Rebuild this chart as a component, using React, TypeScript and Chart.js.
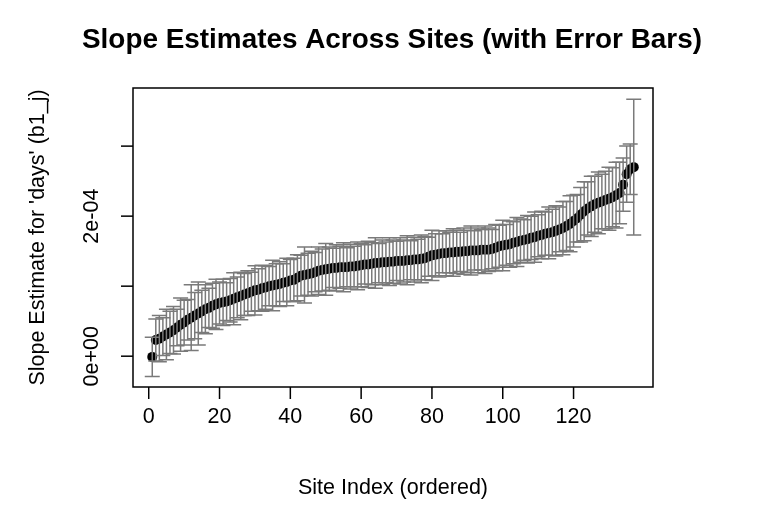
import React, { useEffect, useRef } from "react";
import { Chart, registerables } from "chart.js";

Chart.register(...registerables);

// Slope estimates (units of 1e-4), ordered ascending, site index 1..137
const slopeE4 = [
  -0.01, 0.23, 0.25, 0.28, 0.31, 0.34, 0.37, 0.41, 0.45, 0.48,
  0.52, 0.55, 0.58, 0.61, 0.64, 0.67, 0.69, 0.72, 0.74, 0.76,
  0.77, 0.78, 0.80, 0.82, 0.84, 0.86, 0.88, 0.90, 0.92, 0.94,
  0.95, 0.97, 0.98, 1.00, 1.01, 1.02, 1.03, 1.05, 1.06, 1.08,
  1.09, 1.12, 1.15, 1.16, 1.17, 1.18, 1.20, 1.22, 1.23, 1.24,
  1.25, 1.26, 1.26, 1.27, 1.27, 1.27, 1.28, 1.28, 1.29, 1.30,
  1.31, 1.31, 1.32, 1.33, 1.33, 1.34, 1.34, 1.35, 1.35, 1.36,
  1.36, 1.36, 1.37, 1.37, 1.38, 1.38, 1.39, 1.40, 1.42, 1.44,
  1.45, 1.46, 1.47, 1.47, 1.48, 1.48, 1.49, 1.49, 1.50, 1.50,
  1.51, 1.51, 1.51, 1.52, 1.52, 1.52, 1.53, 1.55, 1.57, 1.58,
  1.59, 1.60, 1.62, 1.63, 1.65, 1.66, 1.67, 1.69, 1.70, 1.72,
  1.73, 1.75, 1.76, 1.77, 1.79, 1.81, 1.83, 1.86, 1.89, 1.93,
  1.97, 2.02, 2.07, 2.11, 2.14, 2.17, 2.19, 2.21, 2.23, 2.25,
  2.27, 2.30, 2.33, 2.45, 2.60, 2.67, 2.70,
];

// Half-width of the error bars (units of 1e-4)
const errE4 = [
  0.28, 0.30, 0.33, 0.27, 0.36, 0.30, 0.34, 0.26, 0.38, 0.32,
  0.29, 0.47, 0.33, 0.45, 0.30, 0.35, 0.28, 0.32, 0.36, 0.30,
  0.33, 0.27, 0.31, 0.37, 0.29, 0.34, 0.30, 0.32, 0.28, 0.35,
  0.30, 0.33, 0.31, 0.28, 0.36, 0.30, 0.32, 0.27, 0.34, 0.30,
  0.31, 0.33, 0.29, 0.40, 0.30, 0.32, 0.28, 0.34, 0.30, 0.37,
  0.31, 0.28, 0.33, 0.30, 0.35, 0.28, 0.32, 0.29, 0.34, 0.31,
  0.28, 0.33, 0.30, 0.36, 0.28, 0.32, 0.29, 0.34, 0.31, 0.28,
  0.33, 0.30, 0.35, 0.28, 0.32, 0.29, 0.34, 0.31, 0.28, 0.36,
  0.30, 0.33, 0.28, 0.32, 0.29, 0.34, 0.31, 0.28, 0.33, 0.30,
  0.35, 0.28, 0.32, 0.29, 0.34, 0.31, 0.28, 0.33, 0.30, 0.36,
  0.29, 0.33, 0.30, 0.35, 0.31, 0.29, 0.34, 0.31, 0.36, 0.30,
  0.34, 0.31, 0.37, 0.33, 0.36, 0.32, 0.38, 0.35, 0.40, 0.37,
  0.34, 0.39, 0.42, 0.38, 0.43, 0.40, 0.44, 0.39, 0.41, 0.45,
  0.42, 0.47, 0.44, 0.38, 0.40, 0.36, 0.97,
];

const SCALE = 1e-4;

const xTicks = [0, 20, 40, 60, 80, 100, 120];
const yTicks = [0, 1e-4, 2e-4, 3e-4];
const yTickLabels = ["0e+00", "", "2e-04", ""];

const TITLE = "Slope Estimates Across Sites (with Error Bars)";
const X_TITLE = "Site Index (ordered)";
const Y_TITLE = "Slope Estimate for 'days' (b1_j)";

const FONT = "'Liberation Sans', Arial, sans-serif";

const rPlotPlugin = {
  id: "rplot",
  afterDatasetsDraw(chart: any) {
    const { ctx, chartArea, scales } = chart;
    const x = scales.x;
    const y = scales.y;
    ctx.save();
    // error bars (drawn over points like R arrows())
    ctx.strokeStyle = "#7a7a7a";
    ctx.lineWidth = 1.5;
    const cap = 7.5;
    slopeE4.forEach((v, i) => {
      const px = x.getPixelForValue(i + 1);
      const top = y.getPixelForValue((v + errE4[i]) * SCALE);
      const bot = y.getPixelForValue((v - errE4[i]) * SCALE);
      ctx.beginPath();
      ctx.moveTo(px, top);
      ctx.lineTo(px, bot);
      ctx.moveTo(px - cap, top);
      ctx.lineTo(px + cap, top);
      ctx.moveTo(px - cap, bot);
      ctx.lineTo(px + cap, bot);
      ctx.stroke();
    });

    // box
    ctx.strokeStyle = "#000";
    ctx.lineWidth = 1.5;
    ctx.strokeRect(chartArea.left, chartArea.top, chartArea.right - chartArea.left, chartArea.bottom - chartArea.top);

    // x ticks
    const tickLen = 12;
    ctx.fillStyle = "#000";
    ctx.font = `21.5px ${FONT}`;
    ctx.textAlign = "center";
    ctx.textBaseline = "middle";
    xTicks.forEach((t) => {
      const px = x.getPixelForValue(t);
      ctx.beginPath();
      ctx.moveTo(px, chartArea.bottom);
      ctx.lineTo(px, chartArea.bottom + tickLen);
      ctx.stroke();
      ctx.fillText(String(t), px, 417);
    });

    // y ticks
    yTicks.forEach((t, k) => {
      const py = y.getPixelForValue(t);
      ctx.beginPath();
      ctx.moveTo(chartArea.left, py);
      ctx.lineTo(chartArea.left - tickLen, py);
      ctx.stroke();
      const lab = yTickLabels[k];
      if (lab) {
        ctx.save();
        ctx.translate(92, py);
        ctx.rotate(-Math.PI / 2);
        ctx.fillText(lab, 0, 0);
        ctx.restore();
      }
    });

    // axis titles
    const cx = (chartArea.left + chartArea.right) / 2;
    const cy = (chartArea.top + chartArea.bottom) / 2;
    ctx.fillText(X_TITLE, cx, 488);
    ctx.save();
    ctx.translate(38, cy);
    ctx.rotate(-Math.PI / 2);
    ctx.fillText(Y_TITLE, 0, 0);
    ctx.restore();

    // main title
    ctx.font = `bold 27.9px ${FONT}`;
    ctx.fillText(TITLE, cx - 1, 40);
    ctx.restore();
  },
};

export default function App() {
  const ref = useRef<HTMLCanvasElement | null>(null);
  useEffect(() => {
    if (!ref.current) return;
    const chart = new Chart(ref.current, {
      type: "scatter",
      data: {
        datasets: [
          {
            data: slopeE4.map((v, i) => ({ x: i + 1, y: v * SCALE })),
            backgroundColor: "#000",
            borderColor: "#000",
            borderWidth: 0,
            pointRadius: 5,
            pointHoverRadius: 5,
          },
        ],
      },
      options: {
        responsive: false,
        animation: false,
        devicePixelRatio: 1,
        layout: { padding: { left: 133, top: 88, right: 115, bottom: 125 } },
        plugins: { legend: { display: false }, tooltip: { enabled: false }, title: { display: false } },
        scales: {
          x: { type: "linear", display: false, min: -4.44, max: 142.44 },
          y: { type: "linear", display: false, min: -0.44e-4, max: 3.83e-4 },
        },
      },
      plugins: [rPlotPlugin],
    });
    return () => chart.destroy();
  }, []);
  return (
    <div style={{ position: "absolute", left: 0, top: 0, width: 768, height: 512, background: "#fff" }}>
      <canvas ref={ref} width={768} height={512} style={{ display: "block" }} />
    </div>
  );
}
